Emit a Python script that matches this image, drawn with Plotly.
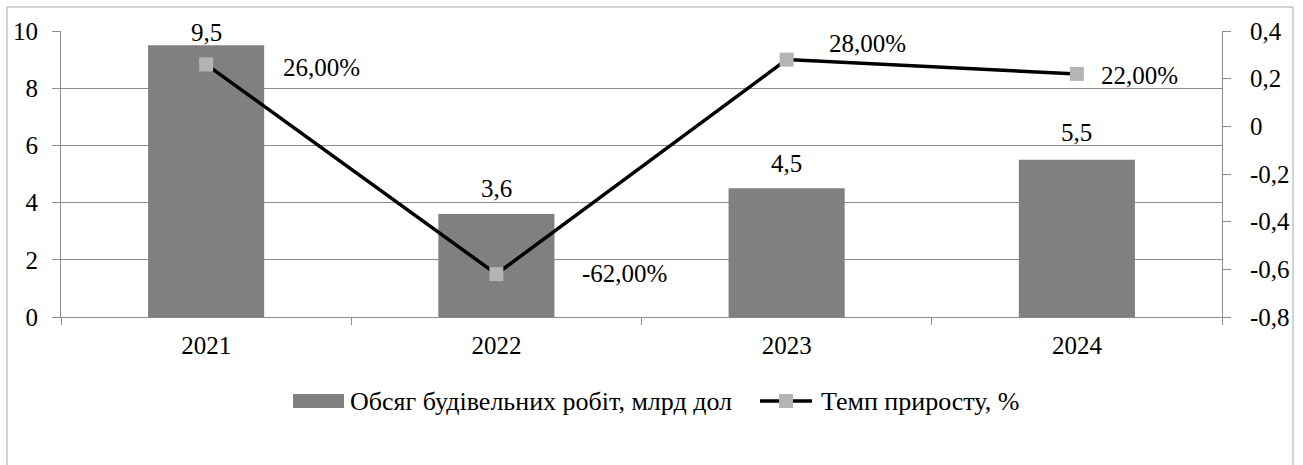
import plotly.graph_objects as go

years = ["2021", "2022", "2023", "2024"]
volume = [9.5, 3.6, 4.5, 5.5]
growth = [0.26, -0.62, 0.28, 0.22]
left_ticks = [0, 2, 4, 6, 8, 10]
right_tickvals = [-0.8, -0.6, -0.4, -0.2, 0, 0.2, 0.4]
right_ticktext = ["-0,8", "-0,6", "-0,4", "-0,2", "0", "0,2", "0,4"]
bar_name = "Обсяг будівельних робіт, млрд дол"
line_name = "Темп приросту, %"

FONT = "Liberation Serif, Times New Roman, serif"
FS = 25
LEG_FS = 26
GRID = "#8c8c8c"
BAR_COLOR = "#808080"
MARKER_COLOR = "#b4b4b4"

# plot-area geometry in pixels (for converting legend/border positions to paper coords)
L, R, T, B = 61, 81, 31, 148
W, H = 1303, 465
PW, PH = W - L - R, H - T - B


def px(xp):
    return (xp - L) / PW


def py(yp):
    return (H - B - yp) / PH


fig = go.Figure()
fig.add_trace(go.Bar(
    x=years, y=volume, name=bar_name, marker=dict(color=BAR_COLOR, line=dict(width=0)),
    width=0.4, yaxis="y", hoverinfo="skip", showlegend=False,
))
fig.add_trace(go.Scatter(
    x=years, y=growth, name=line_name, yaxis="y2", mode="lines+markers",
    line=dict(color="black", width=3.5),
    marker=dict(symbol="square", size=14, color=MARKER_COLOR, line=dict(width=0)),
    hoverinfo="skip", showlegend=False,
))

annotations = []
# bar value labels (centre offset above bar top, px)
bar_shift = [13, 26, 25, 27]
for i, (v, s) in enumerate(zip(volume, bar_shift)):
    annotations.append(dict(
        x=i, y=v, xref="x", yref="y", text=f"{v:.1f}".replace(".", ","),
        showarrow=False, yanchor="middle", xanchor="center", yshift=s,
        font=dict(family=FONT, size=FS, color="black"),
    ))
# line value labels
line_shift = [(75, -3), (84, 1), (40, 16), (22, -2)]
for i, (v, (dx, dy)) in enumerate(zip(growth, line_shift)):
    annotations.append(dict(
        x=i, y=v, xref="x", yref="y2", text=f"{v*100:.2f}%".replace(".", ","),
        showarrow=False, yanchor="middle", xanchor="left", xshift=dx, yshift=dy,
        font=dict(family=FONT, size=FS, color="black"),
    ))

# custom legend (wide swatch like the reference)
annotations.append(dict(
    x=px(348), y=py(402), xref="paper", yref="paper", text=bar_name, showarrow=False,
    xanchor="left", yanchor="middle", font=dict(family=FONT, size=LEG_FS, color="black"),
))
annotations.append(dict(
    x=px(819), y=py(402), xref="paper", yref="paper", text=line_name, showarrow=False,
    xanchor="left", yanchor="middle", font=dict(family=FONT, size=LEG_FS, color="black"),
))
shapes = [
    dict(type="rect", xref="paper", yref="paper", x0=px(7), x1=px(1293),
         y0=py(470), y1=py(7), line=dict(color="#a6a6a6", width=1),
         fillcolor="rgba(0,0,0,0)", layer="below"),
    dict(type="rect", xref="paper", yref="paper", x0=px(293), x1=px(344),
         y0=py(408), y1=py(394), line=dict(width=0), fillcolor=BAR_COLOR),
    dict(type="line", xref="paper", yref="paper", x0=px(760), x1=px(812),
         y0=py(401), y1=py(401), line=dict(color="black", width=3.5)),
    dict(type="rect", xref="paper", yref="paper", x0=px(779), x1=px(793),
         y0=py(408), y1=py(394), line=dict(width=0), fillcolor=MARKER_COLOR),
]

fig.update_layout(
    width=W, height=H,
    margin=dict(l=L, r=R, t=T, b=B),
    paper_bgcolor="white", plot_bgcolor="white",
    font=dict(family=FONT, size=FS, color="black"),
    separators=", ",
    showlegend=False,
    xaxis=dict(
        type="category", range=[-0.5, 3.5], showgrid=False, showline=True,
        linecolor=GRID, linewidth=1, automargin=False,
        ticks="outside", tickson="boundaries", ticklen=7, tickcolor=GRID,
        ticklabelstandoff=6, tickangle=0, tickfont=dict(family=FONT, size=FS),
    ),
    yaxis=dict(
        range=[0, 10], tickvals=left_ticks, showgrid=True, gridcolor=GRID, gridwidth=1,
        showline=True, linecolor=GRID, ticks="outside", ticklen=8, tickcolor=GRID,
        zeroline=False, ticklabelstandoff=9, automargin=False,
        tickfont=dict(family=FONT, size=FS),
    ),
    yaxis2=dict(
        range=[-0.8, 0.4], overlaying="y", side="right", tickvals=right_tickvals,
        ticktext=right_ticktext, showgrid=False, showline=True, linecolor=GRID,
        ticks="outside", ticklen=8, tickcolor=GRID, zeroline=False,
        ticklabelstandoff=14, automargin=False, tickfont=dict(family=FONT, size=FS),
    ),
    annotations=annotations,
    shapes=shapes,
)

fig.write_html("out.html", post_script="document.body.style.margin='0';",
               config={"displayModeBar": False})
